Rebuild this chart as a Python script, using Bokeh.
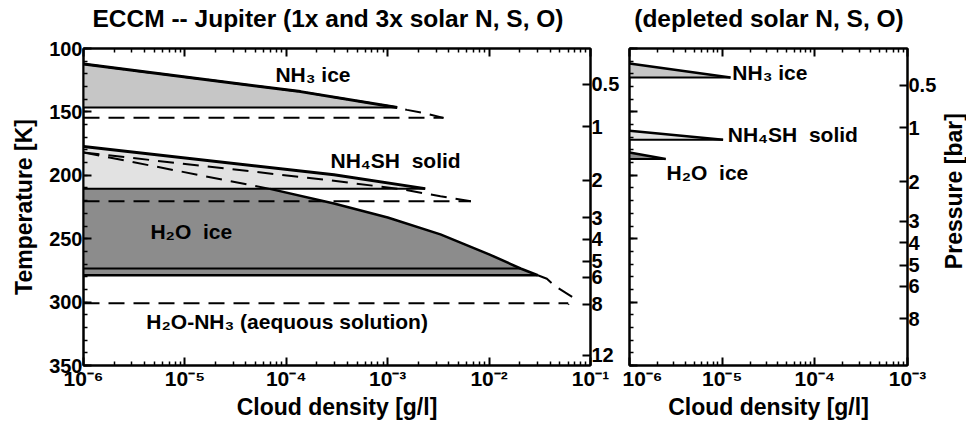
import numpy as np
from bokeh.plotting import figure
from bokeh.models import Range1d, LinearAxis, LogAxis, FixedTicker, CustomJSTickFormatter
from bokeh.layouts import row, column
from bokeh.embed import file_html
from bokeh.resources import INLINE
from bokeh.core.properties import value

# ---------------- data: log10(cloud density [g/l]) and temperature [K] ----------------
# Left panel, 1x solar (solid) and 3x solar (dashed)
nh3_top_lx = [-6.0, -3.86, -2.906]
nh3_top_T = [112.3, 134.0, 146.5]
nh3_base_T = 146.5
nh3_3x_lx = [-6.0, -3.86, -2.906, -2.81, -2.61, -2.45]
nh3_3x_T = [112.3, 134.0, 146.5, 148.4, 151.5, 154.7]
nh3_3x_base_T = 154.7

nh4sh_top_lx = [-6.0, -3.53, -2.63]
nh4sh_top_T = [177.3, 199.5, 210.5]
nh4sh_base_T = 210.7
nh4sh_3x_lx = [-6.0, -3.63, -2.87, -2.48, -2.18]
nh4sh_3x_T = [182.0, 203.4, 210.9, 216.5, 220.4]
nh4sh_3x_base_T = 220.4

h2o_top_lx = [-6.0, -4.16, -3.53, -3.0, -2.48, -2.0, -1.69, -1.52]
h2o_top_T = [182.0, 210.7, 222.3, 233.3, 246.6, 262.3, 273.5, 278.8]
h2o_upper_base_T = 273.5
h2o_upper_base_end_lx = -1.69
h2o_base_T = 278.8
h2o_3x_ext_lx = [-1.52, -1.43, -1.35, -1.17, -1.22]
h2o_3x_ext_T = [278.8, 281.6, 287.3, 296.5, 302.0]
aq_3x_base_T = 301.0
aq_3x_end_lx = -1.22

# Right panel, depleted solar
d_nh3_lx = [-6.0, -4.91]
d_nh3_T = [111.8, 122.8]
d_nh4sh_lx = [-6.0, -4.99]
d_nh4sh_T = [164.9, 172.0]
d_h2o_lx = [-6.0, -5.61]
d_h2o_T = [182.0, 187.2]

# Axes
temp_ticks = [100, 150, 200, 250, 300, 350]
temp_minor = list(range(100, 351, 10))
left_decades = [-6, -5, -4, -3, -2, -1]
right_decades = [-6, -5, -4, -3]
press_labels_left = ["0.5", "1", "2", "3", "4", "5", "6", "8", "12"]
press_T_left = [128.0, 161.8, 203.8, 233.3, 250.5, 267.8, 280.4, 301.6, 342.0]
press_labels_right = ["0.5", "1", "2", "3", "4", "5", "6", "8"]
press_T_right = [129.0, 162.6, 205.0, 236.4, 253.3, 271.0, 287.4, 313.0]

# In-plot labels: (log10 x, T, text)
NB = "\u00a0"
left_labels = [(-4.107, 120.5, "NH₃ ice"), (-3.564, 188.5, "NH₄SH" + NB + " solid"),
               (-5.34, 244.5, "H₂O" + NB + " ice"), (-5.38, 315.5, "H₂O-NH₃ (aequous solution)")]
right_labels = [(-4.89, 118.6, "NH₃ ice"), (-4.94, 168.0, "NH₄SH" + NB + " solid"),
                (-5.60, 198.0, "H₂O" + NB + " ice")]
title_left = "ECCM -- Jupiter (1x and 3x solar N, S, O)"
title_right = "(depleted solar N, S, O)"
pressure_label = "Pressure [bar]"

FONT = "Liberation Sans"
C_NH3 = "#c6c6c6"
C_NH4SH = "#e2e2e2"
C_H2O = "#8c8c8c"
DASH = "16 9"

# layout (pixels)
TITLE_H = 32
TOP_B = 16
MAIN_H = 422 - TITLE_H
LEFT_W, RIGHT_W, STRIP_W = 622, 317, 27

SUP = str.maketrans("-0123456789", "⁻⁰¹²³⁴⁵⁶⁷⁸⁹")


def dec_label(e):
    return "10" + str(e).translate(SUP)


def p10(a):
    return list(np.power(10.0, np.asarray(a, dtype=float)))


def style_axis(ax, labels=True, size="20px"):
    ax.axis_line_color = "black"
    ax.axis_line_width = 2
    ax.major_tick_line_color = "black"
    ax.major_tick_line_width = 2
    ax.minor_tick_line_color = "black"
    ax.minor_tick_line_width = 1.5
    ax.major_tick_in = 8
    ax.major_tick_out = 0
    ax.minor_tick_in = 4
    ax.minor_tick_out = 0
    ax.major_label_text_font = FONT
    ax.major_label_text_font_style = "bold"
    ax.major_label_text_font_size = size
    ax.major_label_text_color = "black"
    ax.major_label_standoff = 1
    ax.axis_label_text_font = FONT
    ax.axis_label_text_font_style = "bold"
    ax.axis_label_text_font_size = "23px"
    ax.axis_label_text_color = "black"
    ax.axis_label_standoff = 1
    if not labels:
        ax.formatter = CustomJSTickFormatter(code="return ''")
        ax.major_label_text_font_size = "1px"
        ax.major_label_standoff = 0


def strip(width, height, text, x, y, size, angle=0.0):
    """Blank figure (pixel data units) that carries one piece of text."""
    s = figure(width=width, height=height, x_range=Range1d(0, width), y_range=Range1d(0, height),
               x_axis_location=None, y_axis_location=None, output_backend="svg",
               toolbar_location=None, min_border=0)
    s.xgrid.visible = False
    s.ygrid.visible = False
    s.outline_line_color = None
    s.text(x=[x], y=[y], text=[text], text_font=value(FONT), text_font_style="bold",
           text_font_size=size, text_align="center", text_baseline="middle",
           text_color="black", angle=angle)
    return s


def make_fig(decades, width, border_left, border_right):
    lo, hi = decades[0], decades[-1]
    p = figure(width=width, height=MAIN_H, x_axis_type="log",
               x_range=Range1d(10.0 ** lo, 10.0 ** hi), y_range=Range1d(350, 100),
               output_backend="svg", toolbar_location=None,
               min_border_left=border_left, min_border_right=border_right,
               min_border_top=TOP_B, min_border_bottom=55)
    p.xgrid.visible = False
    p.ygrid.visible = False
    p.outline_line_color = "black"
    p.outline_line_width = 2
    p.background_fill_color = "white"
    p.border_fill_color = "white"

    xt = [10.0 ** e for e in decades]
    xminor = [m * 10.0 ** e for e in decades[:-1] for m in range(2, 10)]
    p.xaxis.ticker = FixedTicker(ticks=xt, minor_ticks=xminor)
    p.xaxis.major_label_overrides = {t: dec_label(e) for t, e in zip(xt, decades)}
    p.xaxis.axis_label = "Cloud density [g/l]"
    style_axis(p.xaxis[0], size="21px")
    top = LogAxis(ticker=FixedTicker(ticks=xt, minor_ticks=xminor))
    style_axis(top, labels=False)
    p.add_layout(top, "above")

    p.yaxis.ticker = FixedTicker(ticks=temp_ticks, minor_ticks=temp_minor)
    style_axis(p.yaxis[0])
    return p


def wedge(p, lx, T, base_T, color, top_w=2.5):
    xs = p10(lx) + [10.0 ** lx[0]]
    ys = list(T) + [base_T]
    p.patch(xs, ys, fill_color=color, line_color=None)
    p.line(p10(lx), T, line_color="black", line_width=top_w)
    p.line(p10([lx[0], lx[-1]]), [base_T, base_T], line_color="black", line_width=2)


# ---------------- left panel ----------------
pL = make_fig(left_decades, LEFT_W, 83, 32)
pL.yaxis[0].axis_label = "Temperature [K]"
pL.yaxis[0].axis_label_standoff = 9

# H2O ice (dark), visible below the NH4SH layer
h2o_lx_vis = [lx for lx, t in zip(h2o_top_lx, h2o_top_T) if t >= nh4sh_base_T]
h2o_T_vis = [t for t in h2o_top_T if t >= nh4sh_base_T]
pL.patch(p10([h2o_top_lx[0]] + h2o_lx_vis + [h2o_top_lx[0]]),
         [nh4sh_base_T] + h2o_T_vis + [h2o_base_T], fill_color=C_H2O, line_color=None)
# NH4SH and NH3 fills
pL.patch(p10(nh4sh_top_lx + [nh4sh_top_lx[0]]), nh4sh_top_T + [nh4sh_base_T],
         fill_color=C_NH4SH, line_color=None)
pL.patch(p10(nh3_top_lx + [nh3_top_lx[0]]), nh3_top_T + [nh3_base_T],
         fill_color=C_NH3, line_color=None)

# 3x solar, dashed
dash_kw = dict(line_color="black", line_width=2, line_dash=DASH)
pL.line(p10(nh3_3x_lx), nh3_3x_T, **dash_kw)
pL.line(p10([nh3_3x_lx[0], nh3_3x_lx[-1]]), [nh3_3x_base_T] * 2, **dash_kw)
pL.line(p10(nh4sh_3x_lx), nh4sh_3x_T, **dash_kw)
pL.line(p10([nh4sh_3x_lx[0], nh4sh_3x_lx[-1]]), [nh4sh_3x_base_T] * 2, **dash_kw)
pL.line(p10(h2o_top_lx[:2]), h2o_top_T[:2], **dash_kw)
pL.line(p10(h2o_3x_ext_lx), h2o_3x_ext_T, **dash_kw)
pL.line(p10([h2o_top_lx[0], aq_3x_end_lx]), [aq_3x_base_T] * 2, **dash_kw)

# 1x solar, solid
pL.line(p10(nh3_top_lx), nh3_top_T, line_color="black", line_width=3)
pL.line(p10([nh3_top_lx[0], nh3_top_lx[-1]]), [nh3_base_T] * 2, line_color="black", line_width=2)
pL.line(p10(nh4sh_top_lx), nh4sh_top_T, line_color="black", line_width=3)
pL.line(p10([nh4sh_top_lx[0], nh4sh_top_lx[-1]]), [nh4sh_base_T] * 2, line_color="black", line_width=2)
pL.line(p10(h2o_lx_vis), h2o_T_vis, line_color="black", line_width=2.5)
pL.line(p10([h2o_top_lx[0], h2o_upper_base_end_lx]), [h2o_upper_base_T] * 2, line_color="black", line_width=2)
pL.line(p10([h2o_top_lx[0], h2o_top_lx[-1]]), [h2o_base_T] * 2, line_color="black", line_width=2.5)

# pressure axis (right of left panel)
rL = LinearAxis(ticker=FixedTicker(ticks=press_T_left),
                major_label_overrides=dict(zip(press_T_left, press_labels_left)))
style_axis(rL)
pL.add_layout(rL, "right")

pL.text(x=p10([l[0] for l in left_labels]), y=[l[1] for l in left_labels],
        text=[l[2] for l in left_labels], text_font=value(FONT), text_font_style="bold",
        text_font_size="21px", text_baseline="middle", text_align="left", text_color="black")

# ---------------- right panel ----------------
pR = make_fig(right_decades, RIGHT_W, 7, 31)
pR.yaxis[0].formatter = CustomJSTickFormatter(code="return ''")
pR.yaxis[0].major_label_text_font_size = "1px"
pR.yaxis[0].major_label_standoff = 0

wedge(pR, d_h2o_lx, d_h2o_T, d_h2o_T[-1], C_H2O)
wedge(pR, d_nh4sh_lx, d_nh4sh_T, d_nh4sh_T[-1], C_NH4SH)
wedge(pR, d_nh3_lx, d_nh3_T, d_nh3_T[-1], C_NH3)

rR = LinearAxis(ticker=FixedTicker(ticks=press_T_right),
                major_label_overrides=dict(zip(press_T_right, press_labels_right)))
style_axis(rR)
pR.add_layout(rR, "right")

pR.text(x=p10([l[0] for l in right_labels]), y=[l[1] for l in right_labels],
        text=[l[2] for l in right_labels], text_font=value(FONT), text_font_style="bold",
        text_font_size="21px", text_baseline="middle", text_align="left", text_color="black")

# ---------------- titles and the pressure label ----------------
tL = strip(LEFT_W, TITLE_H, title_left, 83 + 507 / 2 - 9, TITLE_H - 18, "24.5px")
tR = strip(RIGHT_W + STRIP_W, TITLE_H, title_right, 7 + 279 / 2, TITLE_H - 18, "24.5px")
sP = strip(STRIP_W, MAIN_H, pressure_label, 14, MAIN_H - (TOP_B + 319 / 2), "23px", angle=np.pi / 2)

layout = column(row(tL, tR), row(pL, pR, sP))
open("out.html", "w").write(file_html(layout, INLINE))
